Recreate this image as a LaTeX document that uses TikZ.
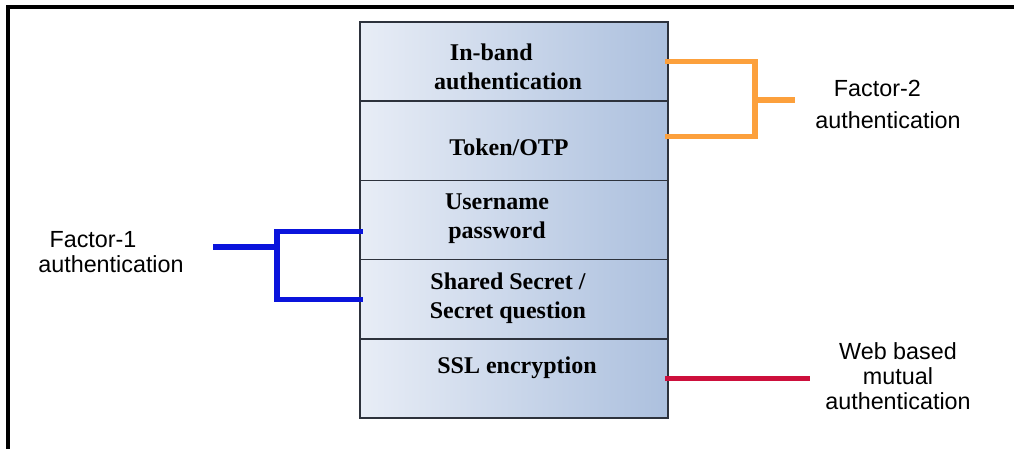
\documentclass[tikz,border=0pt]{standalone}
\usepackage{fontspec}
\setmainfont{Liberation Serif}
\newfontfamily\sidefont{Liberation Sans}
\definecolor{boxleft}{RGB}{232,237,246}
\definecolor{boxright}{RGB}{172,192,222}
\definecolor{boxline}{RGB}{45,50,60}
\definecolor{factortwo}{RGB}{252,160,60}
\definecolor{factorone}{RGB}{10,20,220}
\definecolor{mutualred}{RGB}{205,15,60}
\tikzset{
  layer/.style={draw=boxline, line width=1.2pt, left color=boxleft, right color=boxright,
    minimum width=231pt, minimum height=59.4pt, inner sep=0pt, outer sep=0pt},
  layertext/.style={font=\bfseries\fontsize{18}{22}\selectfont, align=center, inner sep=0.75pt},
  sidetext/.style={font=\sidefont\fontsize{17.5}{19}\selectfont, align=center, inner sep=0.75pt},
  bracket/.style={line width=3.8pt, line cap=rect}
}
\begin{document}
\begin{tikzpicture}[x=0.75pt,y=0.75pt,yscale=-1,xscale=1]
\useasboundingbox (0,0) rectangle (1014,449);

%Frame
\draw [line width=2.6pt] (8,449) -- (8,7) -- (1014,7) ;

%Layers of the stack
\node [layer] (r1) at (514,61.6) {};
\node [layer] (r2) at (514,140.8) {};
\node [layer] (r3) at (514,220) {};
\node [layer] (r4) at (514,299.2) {};
\node [layer] (r5) at (514,378.4) {};

% Text Node
\node [layertext] (t1) at (508,67) {In-band\hspace*{25pt}\\authentication};
% Text Node
\node [layertext] (t2) at (509,147) {Token/OTP};
% Text Node
\node [layertext] (t3) at (497,219) {Username\\password};
% Text Node
\node [layertext] (t4) at (508,298) {Shared Secret /\\Secret question};
% Text Node
\node [layertext] (t5) at (517,368) {SSL encryption};

% Side labels
\node [sidetext, font=\sidefont\fontsize{17.5}{24}\selectfont] (f2) at (888,104) {Factor-2\hspace*{16pt}\\authentication};
\node [sidetext] (f1) at (111,252) {Factor-1\hspace*{27pt}\\authentication};
\node [sidetext] (wb) at (898,376) {Web based\\mutual\hspace*{10pt}\\authentication};

%Factor-2 bracket
\coordinate (f2join) at (755,100);
\coordinate (f2end) at (792,100);
\draw [bracket, factortwo] (r1.east) -| (f2join) |- ([yshift=-3pt]r2.east) ;
\draw [bracket, factortwo] (f2join) -- (f2end) ;

%Factor-1 bracket
\coordinate (f1join) at (277,247);
\coordinate (f1end) at (216,247);
\draw [bracket, factorone] ([yshift=8.5pt]r3.west) -| (f1join) |- (r4.west) ;
\draw [bracket, factorone] (f1join) -- (f1end) ;

%Mutual authentication line
\draw [bracket, mutualred] (r5.east) -- ++(139,0) coordinate (wbend) ;

\end{tikzpicture}
\end{document}
